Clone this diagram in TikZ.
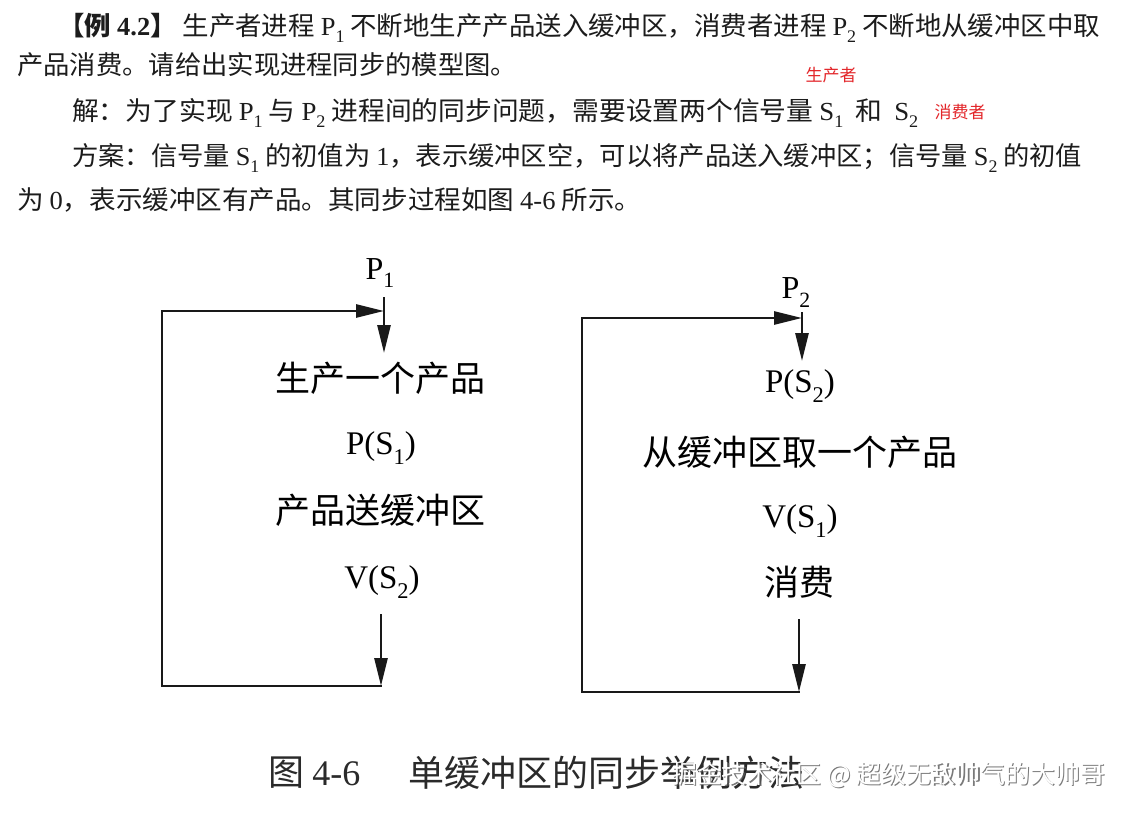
\documentclass[tikz,border=0pt]{standalone}
\usepackage{fontspec}
\usepackage{graphicx}
\usetikzlibrary{arrows.meta}
\setmainfont{Liberation Serif}
\newfontfamily\cjk{Noto Sans CJK SC}
\newfontfamily\tms{Liberation Serif}
\newcommand\T[1]{{\tms #1}}
\newcommand\mysub[1]{\raisebox{-0.28em}{\scalebox{0.68}{#1}}}
\newcommand\fitto[2]{\resizebox{#1}{\height}{#2}}
\definecolor{ink}{HTML}{1C1C1C}
\definecolor{redlab}{HTML}{E3262A}
\definecolor{capink}{HTML}{2A2A2A}
\begin{document}
\begin{tikzpicture}[x=1pt,y=-1pt,
  body/.style={anchor=west,inner sep=0pt,text=ink,font=\cjk\fontsize{26}{30}\selectfont},
  redlabel/.style={inner sep=0pt,text=redlab,font=\cjk\fontsize{17}{20}\selectfont},
  dtext/.style={inner sep=0pt,text=black,font=\cjk\fontsize{35}{40}\selectfont},
  ptext/.style={inner sep=0pt,text=black,font=\tms\fontsize{32}{36}\selectfont},
  wire/.style={line width=2.6pt,draw=black!90,line cap=rect},
  arr/.style={wire,-{Triangle[length=28pt,width=13pt]}},
  captext/.style={anchor=west,inner sep=0pt,text=capink,font=\cjk\fontsize{36}{40}\selectfont},
  wmark/.style={anchor=west,inner sep=0pt,font=\cjk\fontsize{25}{28}\selectfont}
]
\useasboundingbox[fill=white] (0,0) rectangle (1128,814);

% ---- body text ----
\node[body] (l1) at (58,28) {\fitto{1042pt}{{\bfseries 【例 \T{4.2}】} 生产者进程 \T{P\mysub{1}} 不断地生产产品送入缓冲区，消费者进程 \T{P\mysub{2}} 不断地从缓冲区中取}};
\node[body] (l2) at (17,65) {\fitto{500pt}{产品消费。请给出实现进程同步的模型图。}};
\node[body] (l3) at (72,113) {\fitto{846pt}{解：为了实现 \T{P\mysub{1}} 与 \T{P\mysub{2}} 进程间的同步问题，需要设置两个信号量 \T{S\mysub{1}}\ \ 和\ \ \T{S\mysub{2}}}};
\node[body] (l4) at (72,158) {\fitto{1010pt}{方案：信号量 \T{S\mysub{1}} 的初值为 \T{1}，表示缓冲区空，可以将产品送入缓冲区；信号量 \T{S\mysub{2}} 的初值}};
\node[body] (l5) at (17,200) {\fitto{624pt}{为 \T{0}，表示缓冲区有产品。其同步过程如图 \T{4-6} 所示。}};

\node[redlabel] (r1) at (831,75) {生产者};
\node[redlabel] (r2) at (960,112) {消费者};

% ---- left loop (producer) ----
\node[ptext] (p1) at (380,273) {P\mysub{1}};
\node[dtext] (produce) at (380,378) {生产一个产品};
\node[ptext,font=\tms\fontsize{33}{36}\selectfont] (ps1) at (381,448) {P(S\mysub{1})};
\node[dtext] (put) at (380,510) {产品送缓冲区};
\node[ptext,font=\tms\fontsize{33}{36}\selectfont] (vs2) at (382,582) {V(S\mysub{2})};

\coordinate (la) at (384,298);
\coordinate (lb) at (384,353);
\coordinate (ltl) at (162,311);
\coordinate (ltr) at (384,311);
\coordinate (lc) at (381,615);
\coordinate (lbr) at (381,686);
\coordinate (lbl) at (162,686);

\draw[arr] (la) -- (lb);
\draw[arr] (lc) -- (lbr);
\draw[arr] (lbr) -- (lbl) -- (ltl) -- (ltr);

% ---- right loop (consumer) ----
\node[ptext] (p2) at (796,293) {P\mysub{2}};
\node[ptext,font=\tms\fontsize{33}{36}\selectfont] (ps2) at (800,386) {P(S\mysub{2})};
\node[dtext] (take) at (800,452) {从缓冲区取一个产品};
\node[ptext,font=\tms\fontsize{33}{36}\selectfont] (vs1) at (800,521) {V(S\mysub{1})};
\node[dtext] (consume) at (799,582) {消费};

\coordinate (ra) at (802,313);
\coordinate (rb) at (802,361);
\coordinate (rtl) at (582,318);
\coordinate (rtr) at (802,318);
\coordinate (rc) at (799,620);
\coordinate (rbr) at (799,692);
\coordinate (rbl) at (582,692);

\draw[arr] (ra) -- (rb);
\draw[arr] (rc) -- (rbr);
\draw[arr] (rbr) -- (rbl) -- (rtl) -- (rtr);

% ---- caption ----
\node[captext] (cap1) at (268,773) {图 \T{4-6}};
\node[captext] (cap2) at (408,773) {单缓冲区的同步举例方法};

% ---- watermark ----
\node[wmark,text=black!65,opacity=0.8] (wmshadow) at (673.2,776.2) {\fitto{433pt}{掘金技术社区 @ 超级无敌帅气的大帅哥}};
\node[wmark,text=white] (wm) at (672,775) {\fitto{433pt}{掘金技术社区 @ 超级无敌帅气的大帅哥}};
\end{tikzpicture}
\end{document}
